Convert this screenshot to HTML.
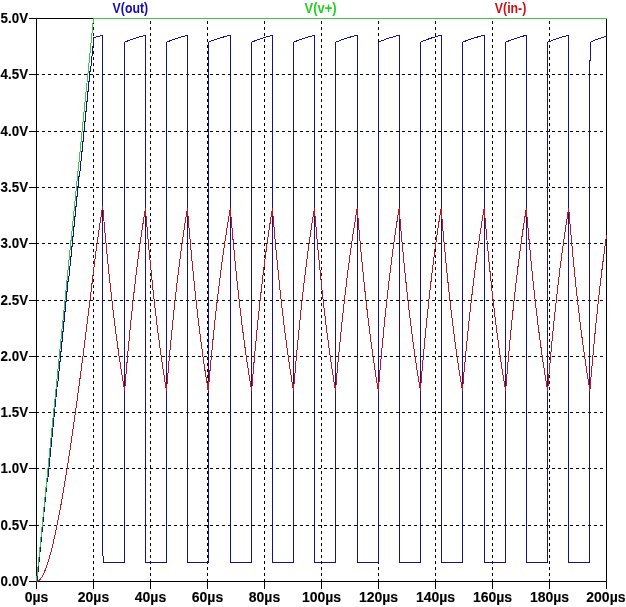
<!DOCTYPE html>
<html><head><meta charset="utf-8"><style>html,body{margin:0;padding:0;background:#fff;overflow:hidden}svg{display:block}</style></head>
<body><svg width="626" height="607" viewBox="0 0 626 607"><rect width="626" height="607" fill="#fff"/><g stroke="#000" stroke-width="1" stroke-dasharray="3 3" shape-rendering="crispEdges"><line x1="36" y1="74.5" x2="606" y2="74.5"/><line x1="36" y1="131.5" x2="606" y2="131.5"/><line x1="36" y1="187.5" x2="606" y2="187.5"/><line x1="36" y1="243.5" x2="606" y2="243.5"/><line x1="36" y1="300.5" x2="606" y2="300.5"/><line x1="36" y1="356.5" x2="606" y2="356.5"/><line x1="36" y1="412.5" x2="606" y2="412.5"/><line x1="36" y1="468.5" x2="606" y2="468.5"/><line x1="36" y1="525.5" x2="606" y2="525.5"/></g><g stroke="#000" stroke-width="1" stroke-dasharray="3 3" stroke-dashoffset="3" shape-rendering="crispEdges"><line x1="93.5" y1="18" x2="93.5" y2="581"/><line x1="150.5" y1="18" x2="150.5" y2="581"/><line x1="207.5" y1="18" x2="207.5" y2="581"/><line x1="264.5" y1="18" x2="264.5" y2="581"/><line x1="321.5" y1="18" x2="321.5" y2="581"/><line x1="378.5" y1="18" x2="378.5" y2="581"/><line x1="435.5" y1="18" x2="435.5" y2="581"/><line x1="492.5" y1="18" x2="492.5" y2="581"/><line x1="549.5" y1="18" x2="549.5" y2="581"/></g><g fill="#000" shape-rendering="crispEdges"><rect x="36" y="18" width="1" height="564"/><rect x="606" y="18" width="1" height="564"/><rect x="36" y="18" width="571" height="1"/><rect x="36" y="581" width="571" height="1"/><rect x="29" y="18" width="7" height="1"/><rect x="29" y="74" width="7" height="1"/><rect x="29" y="131" width="7" height="1"/><rect x="29" y="187" width="7" height="1"/><rect x="29" y="243" width="7" height="1"/><rect x="29" y="300" width="7" height="1"/><rect x="29" y="356" width="7" height="1"/><rect x="29" y="412" width="7" height="1"/><rect x="29" y="468" width="7" height="1"/><rect x="29" y="525" width="7" height="1"/><rect x="29" y="581" width="7" height="1"/><rect x="36" y="581" width="1" height="8"/><rect x="93" y="581" width="1" height="8"/><rect x="150" y="581" width="1" height="8"/><rect x="207" y="581" width="1" height="8"/><rect x="264" y="581" width="1" height="8"/><rect x="321" y="581" width="1" height="8"/><rect x="378" y="581" width="1" height="8"/><rect x="435" y="581" width="1" height="8"/><rect x="492" y="581" width="1" height="8"/><rect x="549" y="581" width="1" height="8"/><rect x="606" y="581" width="1" height="8"/></g><polyline points="36.50,581.50 37.02,581.50 37.02,576.50 37.55,576.50 37.55,571.49 38.07,571.49 38.07,566.49 38.60,566.49 38.60,561.49 39.12,561.49 39.12,556.48 39.65,556.48 39.65,551.48 40.17,551.48 40.17,546.48 40.70,546.48 40.70,541.47 41.22,541.47 41.22,536.47 41.74,536.47 41.74,531.47 42.27,531.47 42.27,526.46 42.79,526.46 42.79,521.46 43.32,521.46 43.32,516.45 43.84,516.45 43.84,511.45 44.37,511.45 44.37,506.45 44.89,506.45 44.89,501.44 45.41,501.44 45.41,496.44 45.94,496.44 45.94,491.44 46.46,491.44 46.46,486.43 46.99,486.43 46.99,481.43 47.51,481.43 47.51,476.43 48.04,476.43 48.04,471.42 48.56,471.42 48.56,466.42 49.09,466.42 49.09,461.42 49.61,461.42 49.61,456.41 50.13,456.41 50.13,451.41 50.66,451.41 50.66,446.41 51.18,446.41 51.18,441.40 51.71,441.40 51.71,436.40 52.23,436.40 52.23,431.40 52.76,431.40 52.76,426.39 53.28,426.39 53.28,421.39 53.81,421.39 53.81,416.38 54.33,416.38 54.33,411.38 54.85,411.38 54.85,406.38 55.38,406.38 55.38,401.37 55.90,401.37 55.90,396.37 56.43,396.37 56.43,391.37 56.95,391.37 56.95,386.36 57.48,386.36 57.48,381.36 58.00,381.36 58.00,376.36 58.52,376.36 58.52,371.35 59.05,371.35 59.05,366.35 59.57,366.35 59.57,361.35 60.10,361.35 60.10,356.34 60.62,356.34 60.62,351.34 61.15,351.34 61.15,346.34 61.67,346.34 61.67,341.33 62.20,341.33 62.20,336.33 62.72,336.33 62.72,331.33 63.24,331.33 63.24,326.32 63.77,326.32 63.77,321.32 64.29,321.32 64.29,316.31 64.82,316.31 64.82,311.31 65.34,311.31 65.34,306.31 65.87,306.31 65.87,301.30 66.39,301.30 66.39,296.30 66.92,296.30 66.92,291.30 67.44,291.30 67.44,286.29 67.96,286.29 67.96,281.29 68.49,281.29 68.49,276.29 69.01,276.29 69.01,271.28 69.54,271.28 69.54,266.28 70.06,266.28 70.06,261.28 70.59,261.28 70.59,256.27 71.11,256.27 71.11,251.27 71.63,251.27 71.63,246.27 72.16,246.27 72.16,241.26 72.68,241.26 72.68,236.26 73.21,236.26 73.21,231.26 73.73,231.26 73.73,226.25 74.26,226.25 74.26,221.25 74.78,221.25 74.78,216.24 75.31,216.24 75.31,211.24 75.83,211.24 75.83,206.24 76.35,206.24 76.35,201.23 76.88,201.23 76.88,196.23 77.40,196.23 77.40,191.23 77.93,191.23 77.93,186.22 78.45,186.22 78.45,181.22 78.98,181.22 78.98,176.22 79.50,176.22 79.50,171.21 80.03,171.21 80.03,166.21 80.55,166.21 80.55,161.21 81.07,161.21 81.07,156.20 81.60,156.20 81.60,151.20 82.12,151.20 82.12,146.20 82.65,146.20 82.65,141.19 83.17,141.19 83.17,136.19 83.70,136.19 83.70,131.19 84.22,131.19 84.22,126.18 84.74,126.18 84.74,121.18 85.27,121.18 85.27,116.18 85.79,116.18 85.79,111.17 86.32,111.17 86.32,106.17 86.84,106.17 86.84,101.16 87.37,101.16 87.37,96.16 87.89,96.16 87.89,91.16 88.42,91.16 88.42,86.15 88.94,86.15 88.94,81.15 89.46,81.15 89.46,76.15 89.99,76.15 89.99,71.14 90.51,71.14 90.51,66.14 91.04,66.14 91.04,61.14 91.56,61.14 91.56,56.13 92.09,56.13 92.09,51.13 92.61,51.13 92.61,46.13 93.14,46.13 93.14,41.12 93.50,37.75 94.31,37.50 95.12,37.25 95.94,37.01 96.75,36.78 97.56,36.55 98.37,36.33 99.19,36.12 100.00,35.91 100.81,35.70 101.62,35.51 102.43,35.31 102.50,35.31 102.50,556.00 103.50,556.00 103.50,562.47 104.31,562.47 105.12,562.47 105.93,562.47 106.75,562.47 107.56,562.47 108.37,562.47 109.18,562.47 110.00,562.47 110.81,562.47 111.62,562.47 112.43,562.47 113.24,562.47 114.06,562.47 114.87,562.47 115.68,562.47 116.49,562.47 117.31,562.47 118.12,562.47 118.93,562.47 119.74,562.47 120.56,562.47 121.37,562.47 122.18,562.47 122.99,562.47 123.80,562.47 124.60,562.47 124.60,42.34 125.41,41.97 126.22,41.60 127.04,41.25 127.85,40.90 128.66,40.56 129.47,40.24 130.29,39.92 131.10,39.61 131.91,39.31 132.72,39.01 133.53,38.73 134.35,38.45 135.16,38.18 135.97,37.91 136.78,37.66 137.60,37.41 138.41,37.17 139.22,36.93 140.03,36.70 140.84,36.48 141.66,36.26 142.47,36.05 143.28,35.84 144.09,35.64 144.91,35.45 145.40,35.45 145.40,562.47 146.21,562.47 147.02,562.47 147.84,562.47 148.65,562.47 149.46,562.47 150.27,562.47 151.09,562.47 151.90,562.47 152.71,562.47 153.52,562.47 154.33,562.47 155.15,562.47 155.96,562.47 156.77,562.47 157.58,562.47 158.40,562.47 159.21,562.47 160.02,562.47 160.83,562.47 161.65,562.47 162.46,562.47 163.27,562.47 164.08,562.47 164.89,562.47 165.71,562.47 166.50,562.47 166.50,42.34 167.31,41.97 168.12,41.60 168.94,41.25 169.75,40.91 170.56,40.57 171.37,40.25 172.19,39.93 173.00,39.62 173.81,39.32 174.62,39.03 175.43,38.74 176.25,38.46 177.06,38.19 177.87,37.93 178.68,37.68 179.50,37.43 180.31,37.19 181.12,36.95 181.93,36.72 182.75,36.50 183.56,36.28 184.37,36.07 185.18,35.87 185.99,35.67 186.81,35.47 187.40,35.47 187.40,562.47 188.21,562.47 189.02,562.47 189.84,562.47 190.65,562.47 191.46,562.47 192.27,562.47 193.09,562.47 193.90,562.47 194.71,562.47 195.52,562.47 196.33,562.47 197.15,562.47 197.96,562.47 198.77,562.47 199.58,562.47 200.40,562.47 201.21,562.47 202.02,562.47 202.83,562.47 203.65,562.47 204.46,562.47 205.27,562.47 206.08,562.47 206.89,562.47 207.71,562.47 208.20,562.47 208.20,42.34 209.01,41.99 209.82,41.64 210.64,41.31 211.45,40.98 212.26,40.66 213.07,40.35 213.89,40.05 214.70,39.75 215.51,39.46 216.32,39.18 217.13,38.91 217.95,38.64 218.76,38.38 219.57,38.13 220.38,37.88 221.20,37.64 222.01,37.41 222.82,37.18 223.63,36.96 224.45,36.74 225.26,36.53 226.07,36.32 226.88,36.12 227.69,35.93 228.51,35.74 229.32,35.55 230.13,35.37 230.30,35.37 230.30,562.47 231.11,562.47 231.92,562.47 232.74,562.47 233.55,562.47 234.36,562.47 235.17,562.47 235.99,562.47 236.80,562.47 237.61,562.47 238.42,562.47 239.23,562.47 240.05,562.47 240.86,562.47 241.67,562.47 242.48,562.47 243.30,562.47 244.11,562.47 244.92,562.47 245.73,562.47 246.54,562.47 247.36,562.47 248.17,562.47 248.98,562.47 249.79,562.47 250.61,562.47 251.42,562.47 251.60,562.47 251.60,42.34 252.41,41.97 253.22,41.60 254.04,41.25 254.85,40.90 255.66,40.56 256.47,40.24 257.29,39.92 258.10,39.61 258.91,39.31 259.72,39.01 260.53,38.73 261.35,38.45 262.16,38.18 262.97,37.91 263.78,37.66 264.60,37.41 265.41,37.17 266.22,36.93 267.03,36.70 267.84,36.48 268.66,36.26 269.47,36.05 270.28,35.84 271.09,35.64 271.91,35.45 272.40,35.45 272.40,562.47 273.21,562.47 274.02,562.47 274.84,562.47 275.65,562.47 276.46,562.47 277.27,562.47 278.09,562.47 278.90,562.47 279.71,562.47 280.52,562.47 281.33,562.47 282.15,562.47 282.96,562.47 283.77,562.47 284.58,562.47 285.40,562.47 286.21,562.47 287.02,562.47 287.83,562.47 288.64,562.47 289.46,562.47 290.27,562.47 291.08,562.47 291.89,562.47 292.71,562.47 293.50,562.47 293.50,42.34 294.31,41.97 295.12,41.60 295.94,41.25 296.75,40.91 297.56,40.57 298.37,40.25 299.19,39.93 300.00,39.62 300.81,39.32 301.62,39.03 302.43,38.74 303.25,38.46 304.06,38.19 304.87,37.93 305.68,37.68 306.50,37.43 307.31,37.19 308.12,36.95 308.93,36.72 309.74,36.50 310.56,36.28 311.37,36.07 312.18,35.87 312.99,35.67 313.81,35.47 314.40,35.47 314.40,562.47 315.21,562.47 316.02,562.47 316.84,562.47 317.65,562.47 318.46,562.47 319.27,562.47 320.09,562.47 320.90,562.47 321.71,562.47 322.52,562.47 323.33,562.47 324.15,562.47 324.96,562.47 325.77,562.47 326.58,562.47 327.40,562.47 328.21,562.47 329.02,562.47 329.83,562.47 330.64,562.47 331.46,562.47 332.27,562.47 333.08,562.47 333.89,562.47 334.71,562.47 335.50,562.47 335.50,42.34 336.31,41.98 337.12,41.63 337.94,41.29 338.75,40.96 339.56,40.63 340.37,40.32 341.19,40.01 342.00,39.71 342.81,39.42 343.62,39.13 344.43,38.86 345.25,38.59 346.06,38.32 346.87,38.07 347.68,37.82 348.50,37.57 349.31,37.34 350.12,37.11 350.93,36.88 351.74,36.66 352.56,36.45 353.37,36.24 354.18,36.04 354.99,35.84 355.81,35.65 356.62,35.46 357.20,35.46 357.20,562.47 358.01,562.47 358.82,562.47 359.64,562.47 360.45,562.47 361.26,562.47 362.07,562.47 362.89,562.47 363.70,562.47 364.51,562.47 365.32,562.47 366.13,562.47 366.95,562.47 367.76,562.47 368.57,562.47 369.38,562.47 370.20,562.47 371.01,562.47 371.82,562.47 372.63,562.47 373.44,562.47 374.26,562.47 375.07,562.47 375.88,562.47 376.69,562.47 377.51,562.47 378.30,562.47 378.30,42.34 379.11,41.97 379.92,41.60 380.74,41.25 381.55,40.90 382.36,40.56 383.17,40.24 383.99,39.92 384.80,39.61 385.61,39.31 386.42,39.01 387.23,38.73 388.05,38.45 388.86,38.18 389.67,37.91 390.48,37.66 391.30,37.41 392.11,37.17 392.92,36.93 393.73,36.70 394.54,36.48 395.36,36.26 396.17,36.05 396.98,35.84 397.79,35.64 398.61,35.45 399.10,35.45 399.10,562.47 399.91,562.47 400.72,562.47 401.54,562.47 402.35,562.47 403.16,562.47 403.97,562.47 404.79,562.47 405.60,562.47 406.41,562.47 407.22,562.47 408.03,562.47 408.85,562.47 409.66,562.47 410.47,562.47 411.28,562.47 412.10,562.47 412.91,562.47 413.72,562.47 414.53,562.47 415.34,562.47 416.16,562.47 416.97,562.47 417.78,562.47 418.59,562.47 419.41,562.47 420.22,562.47 420.40,562.47 420.40,42.34 421.21,41.96 422.02,41.60 422.84,41.24 423.65,40.89 424.46,40.56 425.27,40.23 426.09,39.91 426.90,39.60 427.71,39.29 428.52,39.00 429.33,38.71 430.15,38.43 430.96,38.16 431.77,37.90 432.58,37.64 433.40,37.39 434.21,37.15 435.02,36.91 435.83,36.68 436.64,36.46 437.46,36.24 438.27,36.03 439.08,35.82 439.89,35.62 440.71,35.42 441.10,35.42 441.10,562.47 441.91,562.47 442.72,562.47 443.54,562.47 444.35,562.47 445.16,562.47 445.97,562.47 446.79,562.47 447.60,562.47 448.41,562.47 449.22,562.47 450.03,562.47 450.85,562.47 451.66,562.47 452.47,562.47 453.28,562.47 454.10,562.47 454.91,562.47 455.72,562.47 456.53,562.47 457.34,562.47 458.16,562.47 458.97,562.47 459.78,562.47 460.59,562.47 461.41,562.47 462.22,562.47 462.40,562.47 462.40,42.34 463.21,41.98 464.02,41.63 464.84,41.29 465.65,40.96 466.46,40.64 467.27,40.32 468.09,40.02 468.90,39.72 469.71,39.43 470.52,39.15 471.33,38.87 472.15,38.60 472.96,38.34 473.77,38.08 474.58,37.83 475.40,37.59 476.21,37.36 477.02,37.13 477.83,36.90 478.64,36.68 479.46,36.47 480.27,36.26 481.08,36.06 481.89,35.86 482.71,35.67 483.52,35.48 484.20,35.48 484.20,562.47 485.01,562.47 485.82,562.47 486.64,562.47 487.45,562.47 488.26,562.47 489.07,562.47 489.89,562.47 490.70,562.47 491.51,562.47 492.32,562.47 493.13,562.47 493.95,562.47 494.76,562.47 495.57,562.47 496.38,562.47 497.20,562.47 498.01,562.47 498.82,562.47 499.63,562.47 500.44,562.47 501.26,562.47 502.07,562.47 502.88,562.47 503.69,562.47 504.51,562.47 505.32,562.47 505.60,562.47 505.60,42.34 506.41,41.96 507.22,41.60 508.04,41.24 508.85,40.89 509.66,40.56 510.47,40.23 511.29,39.91 512.10,39.60 512.91,39.29 513.72,39.00 514.53,38.71 515.35,38.43 516.16,38.16 516.97,37.90 517.78,37.64 518.60,37.39 519.41,37.15 520.22,36.91 521.03,36.68 521.84,36.46 522.66,36.24 523.47,36.03 524.28,35.82 525.09,35.62 525.91,35.42 526.30,35.42 526.30,562.47 527.11,562.47 527.92,562.47 528.74,562.47 529.55,562.47 530.36,562.47 531.17,562.47 531.99,562.47 532.80,562.47 533.61,562.47 534.42,562.47 535.23,562.47 536.05,562.47 536.86,562.47 537.67,562.47 538.48,562.47 539.30,562.47 540.11,562.47 540.92,562.47 541.73,562.47 542.54,562.47 543.36,562.47 544.17,562.47 544.98,562.47 545.79,562.47 546.61,562.47 547.42,562.47 547.60,562.47 547.60,42.34 548.41,41.97 549.22,41.61 550.04,41.26 550.85,40.92 551.66,40.59 552.47,40.26 553.29,39.95 554.10,39.64 554.91,39.34 555.72,39.05 556.53,38.77 557.35,38.50 558.16,38.23 558.97,37.97 559.78,37.71 560.60,37.47 561.41,37.22 562.22,36.99 563.03,36.76 563.84,36.54 564.66,36.32 565.47,36.11 566.28,35.91 567.09,35.71 567.91,35.52 568.70,35.52 568.70,562.47 569.51,562.47 570.32,562.47 571.14,562.47 571.95,562.47 572.76,562.47 573.57,562.47 574.39,562.47 575.20,562.47 576.01,562.47 576.82,562.47 577.63,562.47 578.45,562.47 579.26,562.47 580.07,562.47 580.88,562.47 581.70,562.47 582.51,562.47 583.32,562.47 584.13,562.47 584.94,562.47 585.76,562.47 586.57,562.47 587.38,562.47 588.19,562.47 589.01,562.47 589.82,562.47 589.50,562.47 589.50,60.00 590.50,60.00 590.50,42.34 591.31,41.70 592.12,41.34 592.94,40.99 593.75,40.65 594.56,40.32 595.37,40.00 596.18,39.69 597.00,39.38 597.81,39.09 598.62,38.80 599.43,38.52 600.25,38.25 601.06,37.98 601.87,37.73 602.68,37.47 603.49,37.23 604.31,36.99 605.12,36.76 605.93,36.54 606.49,36.39" fill="none" stroke="#18108c" stroke-width="1" stroke-linejoin="round" stroke-linecap="round" shape-rendering="crispEdges"/><polyline points="36.5,581.5 93.5,18.5 606.5,18.5" fill="none" stroke="#3cc846" stroke-width="1" stroke-linejoin="round" stroke-linecap="round" shape-rendering="crispEdges"/><polyline points="36.50,581.50 37.36,581.38 38.21,581.02 39.07,580.43 39.93,579.62 40.79,578.59 41.64,577.35 42.50,575.90 43.36,574.26 44.22,572.42 45.07,570.41 45.85,568.41 46.58,566.41 47.26,564.40 47.92,562.40 48.54,560.40 49.14,558.39 49.72,556.38 50.28,554.38 50.82,552.37 51.34,550.37 51.85,548.37 52.35,546.36 52.84,544.36 53.32,542.35 53.78,540.35 54.24,538.34 54.69,536.33 55.13,534.32 55.57,532.32 55.99,530.31 56.42,528.30 56.83,526.29 57.24,524.28 57.65,522.26 58.05,520.25 58.44,518.25 58.83,516.25 59.21,514.24 59.59,512.24 59.97,510.23 60.34,508.22 60.71,506.21 61.07,504.21 61.43,502.20 61.79,500.19 62.15,498.17 62.50,496.16 62.85,494.14 63.20,492.12 63.55,490.11 63.89,488.09 64.23,486.08 64.56,484.07 64.90,482.06 65.23,480.06 65.56,478.06 65.88,476.04 66.21,474.04 66.53,472.03 66.85,470.02 67.17,468.00 67.49,466.00 67.80,463.98 68.12,461.98 68.43,459.97 68.74,457.96 69.05,455.96 69.35,453.94 69.66,451.94 69.96,449.92 70.27,447.91 70.57,445.90 70.87,443.89 71.17,441.87 71.46,439.87 71.76,437.85 72.05,435.85 72.35,433.84 72.64,431.83 72.93,429.82 73.22,427.81 73.51,425.80 73.80,423.79 74.08,421.79 74.37,419.78 74.65,417.76 74.93,415.76 75.21,413.75 75.50,411.73 75.78,409.73 76.06,407.72 76.33,405.70 76.61,403.70 76.89,401.69 77.16,399.67 77.44,397.67 77.71,395.66 77.98,393.65 78.26,391.63 78.53,389.62 78.80,387.61 79.07,385.60 79.34,383.60 79.61,381.59 79.87,379.58 80.14,377.56 80.41,375.56 80.67,373.56 80.94,371.54 81.20,369.53 81.47,367.51 81.73,365.50 81.99,363.49 82.25,361.48 82.52,359.46 82.78,357.46 83.03,355.45 83.29,353.44 83.55,351.43 83.81,349.41 84.07,347.40 84.33,345.40 84.58,343.39 84.84,341.37 85.10,339.35 85.35,337.35 85.60,335.35 85.86,333.34 86.11,331.33 86.36,329.31 86.62,327.29 86.87,325.29 87.12,323.28 87.37,321.27 87.62,319.26 87.87,317.24 88.12,315.22 88.37,313.22 88.62,311.22 88.87,309.21 89.11,307.20 89.36,305.19 89.61,303.17 89.86,301.15 90.10,299.15 90.35,297.14 90.59,295.13 90.84,293.12 91.08,291.11 91.33,289.09 91.57,287.07 91.82,285.05 92.06,283.05 92.30,281.04 92.55,279.04 92.79,277.03 93.04,275.01 93.29,273.00 93.54,270.94 93.80,268.84 94.06,266.77 94.31,264.71 94.57,262.67 94.83,260.64 95.08,258.63 95.35,256.54 95.62,254.46 95.89,252.39 96.16,250.35 96.44,248.33 96.71,246.32 96.99,244.23 97.28,242.16 97.56,240.11 97.85,238.08 98.13,236.06 98.43,233.97 98.73,231.90 99.03,229.85 99.33,227.82 99.63,225.81 99.94,223.73 100.25,221.67 100.57,219.63 100.88,217.61 101.21,215.52 101.54,213.46 101.86,211.42 102.19,209.40 102.53,207.32 102.70,206.32 102.87,208.34 103.04,210.35 103.23,212.51 103.41,214.66 103.60,216.80 103.78,218.93 103.97,221.04 104.15,223.14 104.34,225.22 104.52,227.29 104.71,229.35 104.89,231.40 105.08,233.44 105.26,235.46 105.45,237.47 105.65,239.62 105.85,241.76 106.05,243.88 106.25,245.99 106.45,248.08 106.65,250.16 106.85,252.23 107.05,254.28 107.25,256.32 107.45,258.35 107.64,260.36 107.86,262.50 108.07,264.63 108.29,266.74 108.50,268.84 108.71,270.92 108.93,272.98 109.14,275.04 109.35,277.07 109.57,279.10 109.78,281.11 110.01,283.23 110.24,285.34 110.47,287.44 110.69,289.52 110.92,291.58 111.15,293.63 111.38,295.66 111.61,297.68 111.83,299.68 112.08,301.79 112.32,303.88 112.56,305.96 112.80,308.02 113.05,310.06 113.29,312.09 113.53,314.10 113.79,316.21 114.04,318.30 114.30,320.38 114.56,322.44 114.81,324.48 115.07,326.50 115.33,328.51 115.60,330.61 115.87,332.69 116.14,334.75 116.41,336.79 116.68,338.81 116.95,340.82 117.23,342.91 117.52,344.99 117.80,347.04 118.09,349.07 118.37,351.09 118.67,353.18 118.97,355.26 119.27,357.31 119.57,359.34 119.87,361.36 120.18,363.44 120.50,365.51 120.81,367.55 121.13,369.58 121.44,371.58 121.77,373.65 122.09,375.70 122.42,377.73 122.75,379.73 123.09,381.80 123.43,383.84 123.78,385.86 124.13,387.95 124.49,390.00 124.60,390.64 124.77,388.57 124.94,386.50 125.11,384.45 125.28,382.41 125.45,380.38 125.63,378.36 125.80,376.36 125.98,374.20 126.17,372.05 126.35,369.92 126.54,367.80 126.72,365.69 126.91,363.60 127.09,361.52 127.28,359.45 127.46,357.40 127.65,355.35 127.83,353.32 128.02,351.31 128.21,349.30 128.40,347.16 128.60,345.03 128.80,342.91 129.00,340.81 129.20,338.72 129.40,336.65 129.60,334.59 129.80,332.54 130.00,330.51 130.20,328.49 130.40,326.48 130.61,324.35 130.83,322.23 131.04,320.13 131.25,318.04 131.47,315.96 131.68,313.90 131.90,311.86 132.11,309.83 132.32,307.82 132.54,305.81 132.77,303.70 132.99,301.59 133.22,299.51 133.45,297.44 133.68,295.38 133.91,293.34 134.13,291.32 134.36,289.31 134.60,287.20 134.85,285.10 135.09,283.02 135.33,280.95 135.57,278.90 135.81,276.87 136.06,274.85 136.31,272.74 136.57,270.64 136.83,268.56 137.08,266.50 137.34,264.45 137.60,262.42 137.85,260.41 138.12,258.31 138.39,256.23 138.66,254.16 138.94,252.12 139.21,250.09 139.48,248.08 139.76,245.98 140.05,243.91 140.33,241.85 140.62,239.82 140.90,237.80 141.20,235.70 141.50,233.63 141.80,231.57 142.10,229.54 142.40,227.52 142.71,225.44 143.03,223.37 143.34,221.32 143.65,219.30 143.97,217.30 144.29,215.23 144.62,213.18 144.95,211.15 145.28,209.15 145.40,208.40 145.57,210.47 145.74,212.52 145.91,214.57 146.08,216.60 146.26,218.62 146.43,220.63 146.61,222.79 146.80,224.94 146.98,227.08 147.17,229.20 147.35,231.31 147.54,233.41 147.72,235.49 147.91,237.56 148.09,239.61 148.28,241.66 148.46,243.69 148.65,245.70 148.83,247.71 149.03,249.85 149.23,251.98 149.43,254.10 149.63,256.20 149.83,258.28 150.03,260.36 150.23,262.41 150.43,264.46 150.63,266.49 150.83,268.51 151.03,270.51 151.24,272.64 151.46,274.75 151.67,276.85 151.88,278.94 152.10,281.01 152.31,283.06 152.53,285.10 152.74,287.12 152.95,289.13 153.18,291.26 153.41,293.37 153.64,295.47 153.86,297.54 154.09,299.61 154.32,301.65 154.55,303.68 154.78,305.69 155.02,307.82 155.26,309.92 155.50,312.01 155.75,314.08 155.99,316.13 156.23,318.17 156.47,320.19 156.71,322.19 156.97,324.29 157.23,326.38 157.48,328.44 157.74,330.49 158.00,332.52 158.25,334.53 158.52,336.64 158.80,338.73 159.07,340.79 159.34,342.84 159.61,344.87 159.88,346.88 160.16,348.97 160.45,351.05 160.73,353.10 161.02,355.14 161.30,357.15 161.60,359.25 161.90,361.32 162.20,363.37 162.50,365.40 162.80,367.41 163.11,369.50 163.43,371.56 163.74,373.60 164.05,375.62 164.38,377.70 164.71,379.77 165.04,381.81 165.36,383.82 165.71,385.91 166.05,387.96 166.39,390.00 166.50,390.64 166.67,388.58 166.84,386.52 167.01,384.48 167.18,382.45 167.36,380.43 167.53,378.42 167.71,376.26 167.90,374.11 168.08,371.98 168.27,369.85 168.45,367.74 168.64,365.65 168.82,363.56 169.01,361.49 169.19,359.44 169.38,357.39 169.56,355.36 169.75,353.34 169.93,351.33 170.13,349.18 170.33,347.05 170.53,344.93 170.73,342.82 170.93,340.73 171.13,338.66 171.33,336.59 171.53,334.54 171.73,332.50 171.93,330.48 172.13,328.47 172.34,326.33 172.56,324.21 172.77,322.10 172.98,320.01 173.20,317.93 173.41,315.87 173.63,313.82 173.84,311.79 174.05,309.77 174.27,307.76 174.49,305.64 174.72,303.53 174.95,301.44 175.18,299.37 175.41,297.31 175.63,295.26 175.86,293.24 176.09,291.22 176.33,289.10 176.57,287.00 176.82,284.91 177.06,282.84 177.30,280.78 177.54,278.75 177.79,276.73 178.03,274.72 178.28,272.62 178.54,270.53 178.80,268.46 179.05,266.41 179.31,264.37 179.57,262.36 179.84,260.25 180.11,258.15 180.38,256.08 180.65,254.03 180.92,251.99 181.19,249.98 181.48,247.87 181.76,245.79 182.05,243.73 182.33,241.68 182.62,239.66 182.90,237.65 183.20,235.57 183.50,233.50 183.80,231.46 184.10,229.43 184.40,227.43 184.71,225.35 185.03,223.30 185.34,221.26 185.65,219.25 185.98,217.17 186.31,215.11 186.64,213.07 186.96,211.05 187.31,208.97 187.40,208.40 187.57,210.50 187.74,212.58 187.91,214.66 188.08,216.72 188.26,218.77 188.43,220.80 188.60,222.83 188.77,224.84 188.94,226.84 189.12,229.00 189.31,231.14 189.49,233.26 189.68,235.38 189.87,237.48 190.05,239.56 190.24,241.64 190.42,243.70 190.61,245.74 190.79,247.77 190.98,249.79 191.16,251.80 191.36,253.95 191.56,256.08 191.76,258.20 191.96,260.30 192.16,262.39 192.36,264.46 192.56,266.52 192.76,268.57 192.96,270.60 193.16,272.61 193.36,274.62 193.57,276.75 193.78,278.86 194.00,280.96 194.21,283.05 194.43,285.12 194.64,287.17 194.85,289.21 195.07,291.23 195.28,293.24 195.51,295.36 195.74,297.47 195.96,299.56 196.19,301.64 196.42,303.70 196.65,305.74 196.88,307.77 197.10,309.78 197.35,311.90 197.59,314.00 197.83,316.08 198.07,318.15 198.32,320.20 198.56,322.23 198.80,324.24 199.06,326.36 199.31,328.45 199.57,330.53 199.83,332.59 200.08,334.63 200.34,336.65 200.60,338.65 200.87,340.75 201.14,342.83 201.41,344.89 201.68,346.92 201.95,348.94 202.22,350.94 202.51,353.03 202.79,355.09 203.08,357.14 203.36,359.16 203.65,361.17 203.94,363.25 204.24,365.31 204.54,367.35 204.84,369.37 205.16,371.46 205.47,373.53 205.78,375.58 206.10,377.61 206.41,379.61 206.74,381.68 207.07,383.73 207.39,385.75 207.72,387.76 208.06,389.82 208.20,390.64 208.39,388.53 208.57,386.42 208.76,384.33 208.94,382.25 209.13,380.18 209.31,378.13 209.50,376.08 209.68,374.05 209.87,372.03 210.05,370.03 210.25,367.88 210.45,365.74 210.65,363.62 210.85,361.51 211.05,359.41 211.25,357.33 211.45,355.26 211.65,353.21 211.85,351.16 212.05,349.13 212.25,347.11 212.45,345.11 212.66,342.97 212.87,340.85 213.09,338.75 213.30,336.66 213.52,334.58 213.73,332.51 213.94,330.47 214.16,328.43 214.37,326.41 214.58,324.40 214.81,322.27 215.04,320.16 215.27,318.06 215.50,315.98 215.72,313.91 215.95,311.86 216.18,309.82 216.41,307.80 216.64,305.79 216.88,303.67 217.12,301.57 217.36,299.49 217.61,297.42 217.85,295.36 218.09,293.32 218.33,291.30 218.57,289.29 218.83,287.18 219.09,285.09 219.34,283.02 219.60,280.96 219.86,278.92 220.11,276.89 220.37,274.88 220.64,272.78 220.91,270.69 221.18,268.63 221.45,266.58 221.72,264.55 221.99,262.53 222.28,260.43 222.56,258.34 222.85,256.28 223.13,254.23 223.42,252.21 223.70,250.20 224.00,248.11 224.30,246.03 224.60,243.98 224.90,241.95 225.20,239.94 225.51,237.85 225.83,235.78 226.14,233.73 226.45,231.70 226.77,229.70 227.10,227.62 227.42,225.56 227.75,223.53 228.08,221.51 228.42,219.43 228.76,217.38 229.10,215.34 229.45,213.33 229.80,211.25 230.16,209.20 230.30,208.40 230.47,210.45 230.64,212.49 230.81,214.51 230.98,216.53 231.15,218.53 231.34,220.68 231.53,222.83 231.71,224.96 231.90,227.07 232.08,229.17 232.27,231.26 232.45,233.34 232.64,235.40 232.82,237.45 233.01,239.49 233.19,241.51 233.38,243.53 233.58,245.68 233.78,247.82 233.98,249.94 234.18,252.05 234.38,254.14 234.57,256.23 234.77,258.29 234.97,260.34 235.17,262.38 235.37,264.41 235.57,266.42 235.79,268.56 236.00,270.69 236.21,272.80 236.43,274.89 236.64,276.97 236.85,279.03 237.07,281.08 237.28,283.12 237.50,285.14 237.71,287.14 237.94,289.26 238.17,291.37 238.39,293.46 238.62,295.53 238.85,297.59 239.08,299.63 239.31,301.66 239.53,303.67 239.78,305.79 240.02,307.89 240.26,309.98 240.50,312.04 240.75,314.09 240.99,316.13 241.23,318.15 241.47,320.15 241.73,322.25 241.98,324.33 242.24,326.39 242.50,328.44 242.75,330.47 243.01,332.48 243.28,334.58 243.55,336.67 243.82,338.74 244.09,340.78 244.36,342.81 244.64,344.82 244.92,346.91 245.21,348.99 245.49,351.05 245.78,353.08 246.06,355.10 246.36,357.19 246.66,359.27 246.96,361.32 247.26,363.35 247.56,365.37 247.87,367.45 248.18,369.52 248.50,371.56 248.81,373.58 249.14,375.67 249.47,377.74 249.79,379.78 250.12,381.80 250.46,383.89 250.81,385.95 251.15,387.98 251.49,390.00 251.60,390.64 251.77,388.57 251.94,386.50 252.11,384.45 252.28,382.41 252.45,380.38 252.63,378.36 252.80,376.36 252.98,374.20 253.17,372.05 253.35,369.92 253.54,367.80 253.72,365.69 253.91,363.60 254.09,361.52 254.28,359.45 254.46,357.40 254.65,355.35 254.83,353.32 255.02,351.31 255.21,349.30 255.40,347.16 255.60,345.03 255.80,342.91 256.00,340.81 256.20,338.72 256.40,336.65 256.60,334.59 256.80,332.54 257.00,330.51 257.20,328.49 257.40,326.48 257.61,324.35 257.83,322.23 258.04,320.13 258.25,318.04 258.47,315.96 258.68,313.90 258.90,311.86 259.11,309.83 259.32,307.82 259.54,305.81 259.77,303.70 259.99,301.59 260.22,299.51 260.45,297.44 260.68,295.38 260.91,293.34 261.13,291.32 261.36,289.31 261.60,287.20 261.85,285.10 262.09,283.02 262.33,280.95 262.57,278.90 262.81,276.87 263.06,274.85 263.31,272.74 263.57,270.64 263.83,268.56 264.08,266.50 264.34,264.45 264.60,262.42 264.85,260.41 265.12,258.31 265.39,256.23 265.66,254.16 265.94,252.12 266.21,250.09 266.48,248.08 266.76,245.98 267.05,243.91 267.33,241.85 267.62,239.82 267.90,237.80 268.20,235.70 268.50,233.63 268.80,231.57 269.10,229.54 269.40,227.52 269.71,225.44 270.03,223.37 270.34,221.32 270.65,219.30 270.97,217.30 271.29,215.23 271.62,213.18 271.95,211.15 272.28,209.15 272.40,208.40 272.57,210.47 272.74,212.52 272.91,214.57 273.08,216.60 273.25,218.62 273.43,220.63 273.61,222.79 273.80,224.94 273.98,227.08 274.17,229.20 274.35,231.31 274.54,233.41 274.72,235.49 274.91,237.56 275.09,239.61 275.28,241.66 275.46,243.69 275.65,245.70 275.83,247.71 276.03,249.85 276.23,251.98 276.43,254.10 276.63,256.20 276.83,258.28 277.03,260.36 277.23,262.41 277.43,264.46 277.63,266.49 277.83,268.51 278.03,270.51 278.24,272.64 278.46,274.75 278.67,276.85 278.88,278.94 279.10,281.01 279.31,283.06 279.52,285.10 279.74,287.12 279.95,289.13 280.18,291.26 280.41,293.37 280.64,295.47 280.86,297.54 281.09,299.61 281.32,301.65 281.55,303.68 281.78,305.69 282.02,307.82 282.26,309.92 282.50,312.01 282.75,314.08 282.99,316.13 283.23,318.17 283.47,320.19 283.71,322.19 283.97,324.29 284.23,326.38 284.48,328.44 284.74,330.49 285.00,332.52 285.25,334.53 285.52,336.64 285.79,338.73 286.07,340.79 286.34,342.84 286.61,344.87 286.88,346.88 287.16,348.97 287.45,351.05 287.73,353.10 288.02,355.14 288.30,357.15 288.60,359.25 288.90,361.32 289.20,363.37 289.50,365.40 289.80,367.41 290.11,369.50 290.43,371.56 290.74,373.60 291.05,375.62 291.38,377.70 291.71,379.77 292.04,381.81 292.36,383.82 292.71,385.91 293.05,387.96 293.39,390.00 293.50,390.64 293.67,388.58 293.84,386.52 294.01,384.48 294.18,382.45 294.35,380.43 294.53,378.42 294.71,376.26 294.90,374.11 295.08,371.98 295.27,369.85 295.45,367.74 295.64,365.65 295.82,363.56 296.01,361.49 296.19,359.44 296.38,357.39 296.56,355.36 296.75,353.34 296.93,351.33 297.13,349.18 297.33,347.05 297.53,344.93 297.73,342.82 297.93,340.73 298.13,338.66 298.33,336.59 298.53,334.54 298.73,332.50 298.93,330.48 299.13,328.47 299.34,326.33 299.56,324.21 299.77,322.10 299.98,320.01 300.20,317.93 300.41,315.87 300.62,313.82 300.84,311.79 301.05,309.77 301.27,307.76 301.49,305.64 301.72,303.53 301.95,301.44 302.18,299.37 302.41,297.31 302.63,295.26 302.86,293.24 303.09,291.22 303.33,289.10 303.57,287.00 303.82,284.91 304.06,282.84 304.30,280.78 304.54,278.75 304.79,276.73 305.03,274.72 305.28,272.62 305.54,270.53 305.80,268.46 306.05,266.41 306.31,264.37 306.57,262.36 306.84,260.25 307.11,258.15 307.38,256.08 307.65,254.03 307.92,251.99 308.19,249.98 308.48,247.87 308.76,245.79 309.05,243.73 309.33,241.68 309.62,239.66 309.90,237.65 310.20,235.57 310.50,233.50 310.80,231.46 311.10,229.43 311.40,227.43 311.71,225.35 312.02,223.30 312.34,221.26 312.65,219.25 312.98,217.17 313.31,215.11 313.64,213.07 313.96,211.05 314.30,208.97 314.40,208.40 314.57,210.47 314.74,212.52 314.91,214.57 315.08,216.60 315.25,218.62 315.43,220.63 315.61,222.79 315.80,224.94 315.98,227.08 316.17,229.20 316.35,231.31 316.54,233.41 316.72,235.49 316.91,237.56 317.09,239.61 317.28,241.66 317.46,243.69 317.65,245.70 317.83,247.71 318.03,249.85 318.23,251.98 318.43,254.10 318.63,256.20 318.83,258.28 319.03,260.36 319.23,262.41 319.43,264.46 319.63,266.49 319.83,268.51 320.03,270.51 320.24,272.64 320.46,274.75 320.67,276.85 320.88,278.94 321.10,281.01 321.31,283.06 321.52,285.10 321.74,287.12 321.95,289.13 322.18,291.26 322.41,293.37 322.64,295.47 322.86,297.54 323.09,299.61 323.32,301.65 323.55,303.68 323.78,305.69 324.02,307.82 324.26,309.92 324.50,312.01 324.75,314.08 324.99,316.13 325.23,318.17 325.47,320.19 325.71,322.19 325.97,324.29 326.23,326.38 326.48,328.44 326.74,330.49 327.00,332.52 327.25,334.53 327.52,336.64 327.79,338.73 328.07,340.79 328.34,342.84 328.61,344.87 328.88,346.88 329.16,348.97 329.45,351.05 329.73,353.10 330.02,355.14 330.30,357.15 330.60,359.25 330.90,361.32 331.20,363.37 331.50,365.40 331.80,367.41 332.11,369.50 332.43,371.56 332.74,373.60 333.05,375.62 333.38,377.70 333.71,379.77 334.04,381.81 334.36,383.82 334.71,385.91 335.05,387.96 335.39,390.00 335.50,390.64 335.69,388.49 335.87,386.35 336.06,384.22 336.24,382.10 336.43,379.99 336.61,377.90 336.80,375.82 336.98,373.75 337.17,371.70 337.35,369.66 337.54,367.63 337.72,365.61 337.91,363.60 338.11,361.45 338.31,359.32 338.51,357.20 338.71,355.09 338.91,353.00 339.11,350.92 339.30,348.85 339.50,346.80 339.70,344.76 339.90,342.73 340.10,340.72 340.30,338.72 340.52,336.59 340.73,334.47 340.94,332.37 341.16,330.29 341.37,328.21 341.58,326.16 341.80,324.11 342.01,322.08 342.23,320.07 342.44,318.06 342.67,315.94 342.90,313.84 343.12,311.75 343.35,309.68 343.58,307.62 343.81,305.57 344.04,303.54 344.26,301.53 344.51,299.41 344.75,297.30 344.99,295.21 345.23,293.13 345.47,291.07 345.72,289.03 345.96,287.00 346.20,284.99 346.46,282.88 346.71,280.79 346.97,278.71 347.23,276.65 347.48,274.60 347.74,272.58 348.00,270.57 348.27,268.46 348.54,266.38 348.81,264.31 349.08,262.26 349.35,260.23 349.62,258.21 349.91,256.11 350.19,254.03 350.48,251.97 350.76,249.92 351.05,247.90 351.33,245.89 351.63,243.80 351.93,241.73 352.23,239.69 352.53,237.66 352.83,235.65 353.14,233.56 353.45,231.50 353.77,229.46 354.08,227.44 354.40,225.43 354.72,223.36 355.05,221.31 355.38,219.29 355.71,217.28 356.05,215.21 356.39,213.16 356.73,211.13 357.07,209.13 357.20,208.40 357.37,210.47 357.54,212.52 357.71,214.57 357.88,216.60 358.05,218.62 358.23,220.63 358.41,222.79 358.60,224.94 358.78,227.08 358.97,229.20 359.15,231.31 359.34,233.41 359.52,235.49 359.71,237.56 359.89,239.61 360.08,241.66 360.26,243.69 360.45,245.70 360.63,247.71 360.83,249.85 361.03,251.98 361.23,254.10 361.43,256.20 361.63,258.28 361.83,260.36 362.03,262.41 362.23,264.46 362.43,266.49 362.63,268.51 362.83,270.51 363.04,272.64 363.26,274.75 363.47,276.85 363.68,278.94 363.90,281.01 364.11,283.06 364.32,285.10 364.54,287.12 364.75,289.13 364.98,291.26 365.21,293.37 365.44,295.47 365.66,297.54 365.89,299.61 366.12,301.65 366.35,303.68 366.58,305.69 366.82,307.82 367.06,309.92 367.30,312.01 367.55,314.08 367.79,316.13 368.03,318.17 368.27,320.19 368.51,322.19 368.77,324.29 369.03,326.38 369.28,328.44 369.54,330.49 369.80,332.52 370.05,334.53 370.32,336.64 370.59,338.73 370.87,340.79 371.14,342.84 371.41,344.87 371.68,346.88 371.96,348.97 372.25,351.05 372.53,353.10 372.82,355.14 373.10,357.15 373.40,359.25 373.70,361.32 374.00,363.37 374.30,365.40 374.60,367.41 374.91,369.50 375.23,371.56 375.54,373.60 375.85,375.62 376.18,377.70 376.51,379.77 376.84,381.81 377.16,383.82 377.51,385.91 377.85,387.96 378.19,390.00 378.30,390.64 378.47,388.57 378.64,386.50 378.81,384.45 378.98,382.41 379.15,380.38 379.33,378.36 379.50,376.36 379.68,374.20 379.87,372.05 380.05,369.92 380.24,367.80 380.42,365.69 380.61,363.60 380.79,361.52 380.98,359.45 381.16,357.40 381.35,355.35 381.53,353.32 381.72,351.31 381.91,349.30 382.10,347.16 382.30,345.03 382.50,342.91 382.70,340.81 382.90,338.72 383.10,336.65 383.30,334.59 383.50,332.54 383.70,330.51 383.90,328.49 384.10,326.48 384.31,324.35 384.53,322.23 384.74,320.13 384.95,318.04 385.17,315.96 385.38,313.90 385.60,311.86 385.81,309.83 386.02,307.82 386.24,305.81 386.47,303.70 386.69,301.59 386.92,299.51 387.15,297.44 387.38,295.38 387.61,293.34 387.83,291.32 388.06,289.31 388.30,287.20 388.55,285.10 388.79,283.02 389.03,280.95 389.27,278.90 389.51,276.87 389.76,274.85 390.01,272.74 390.27,270.64 390.53,268.56 390.78,266.50 391.04,264.45 391.30,262.42 391.55,260.41 391.82,258.31 392.09,256.23 392.36,254.16 392.64,252.12 392.91,250.09 393.18,248.08 393.46,245.98 393.75,243.91 394.03,241.85 394.32,239.82 394.60,237.80 394.90,235.70 395.20,233.63 395.50,231.57 395.80,229.54 396.10,227.52 396.41,225.44 396.73,223.37 397.04,221.32 397.35,219.30 397.67,217.30 397.99,215.23 398.32,213.18 398.65,211.15 398.98,209.15 399.10,208.40 399.27,210.45 399.44,212.49 399.61,214.51 399.78,216.53 399.95,218.53 400.14,220.68 400.33,222.83 400.51,224.96 400.70,227.07 400.88,229.17 401.07,231.26 401.25,233.34 401.44,235.40 401.62,237.45 401.81,239.49 401.99,241.51 402.18,243.53 402.38,245.68 402.58,247.82 402.78,249.94 402.98,252.05 403.18,254.14 403.37,256.23 403.57,258.29 403.77,260.34 403.97,262.38 404.17,264.41 404.37,266.42 404.59,268.56 404.80,270.69 405.01,272.80 405.23,274.89 405.44,276.97 405.65,279.03 405.87,281.08 406.08,283.12 406.30,285.14 406.51,287.14 406.74,289.26 406.97,291.37 407.19,293.46 407.42,295.53 407.65,297.59 407.88,299.63 408.11,301.66 408.33,303.67 408.58,305.79 408.82,307.89 409.06,309.98 409.30,312.04 409.55,314.09 409.79,316.13 410.03,318.15 410.27,320.15 410.53,322.25 410.78,324.33 411.04,326.39 411.30,328.44 411.55,330.47 411.81,332.48 412.08,334.58 412.35,336.67 412.62,338.74 412.89,340.78 413.16,342.81 413.44,344.82 413.72,346.91 414.01,348.99 414.29,351.05 414.58,353.08 414.86,355.10 415.16,357.19 415.46,359.27 415.76,361.32 416.06,363.35 416.36,365.37 416.67,367.45 416.98,369.52 417.30,371.56 417.61,373.58 417.94,375.67 418.27,377.74 418.59,379.78 418.92,381.80 419.26,383.89 419.61,385.95 419.95,387.98 420.29,390.00 420.40,390.64 420.57,388.56 420.74,386.48 420.91,384.42 421.08,382.37 421.25,380.33 421.43,378.31 421.60,376.29 421.77,374.29 421.95,372.13 422.14,369.99 422.32,367.86 422.51,365.74 422.69,363.63 422.88,361.54 423.06,359.47 423.25,357.40 423.44,355.35 423.62,353.31 423.81,351.28 423.99,349.27 424.18,347.27 424.38,345.13 424.58,343.00 424.77,340.89 424.97,338.79 425.17,336.70 425.37,334.63 425.57,332.58 425.77,330.53 425.97,328.50 426.17,326.49 426.37,324.49 426.58,322.36 426.80,320.24 427.01,318.14 427.23,316.06 427.44,313.99 427.65,311.93 427.87,309.89 428.08,307.87 428.29,305.86 428.52,303.73 428.75,301.62 428.98,299.52 429.21,297.44 429.43,295.38 429.66,293.33 429.89,291.29 430.12,289.28 430.35,287.28 430.59,285.17 430.83,283.07 431.07,281.00 431.32,278.94 431.56,276.90 431.80,274.87 432.04,272.86 432.30,270.75 432.56,268.66 432.81,266.59 433.07,264.53 433.32,262.49 433.58,260.47 433.84,258.47 434.11,256.38 434.38,254.30 434.65,252.24 434.92,250.20 435.19,248.18 435.46,246.18 435.75,244.10 436.03,242.03 436.32,239.98 436.60,237.95 436.89,235.94 437.19,233.86 437.49,231.79 437.78,229.74 438.08,227.72 438.38,225.71 438.70,223.63 439.01,221.57 439.32,219.54 439.64,217.52 439.97,215.44 440.29,213.38 440.62,211.34 440.95,209.32 441.10,208.40 441.27,210.45 441.44,212.49 441.61,214.51 441.78,216.53 441.95,218.53 442.14,220.68 442.33,222.83 442.51,224.96 442.70,227.07 442.88,229.17 443.07,231.26 443.25,233.34 443.44,235.40 443.62,237.45 443.81,239.49 443.99,241.51 444.18,243.53 444.38,245.68 444.58,247.82 444.78,249.94 444.98,252.05 445.18,254.14 445.37,256.23 445.57,258.29 445.77,260.34 445.97,262.38 446.17,264.41 446.37,266.42 446.59,268.56 446.80,270.69 447.01,272.80 447.23,274.89 447.44,276.97 447.65,279.03 447.87,281.08 448.08,283.12 448.30,285.14 448.51,287.14 448.74,289.26 448.97,291.37 449.19,293.46 449.42,295.53 449.65,297.59 449.88,299.63 450.11,301.66 450.33,303.67 450.58,305.79 450.82,307.89 451.06,309.98 451.30,312.04 451.55,314.09 451.79,316.13 452.03,318.15 452.27,320.15 452.53,322.25 452.78,324.33 453.04,326.39 453.30,328.44 453.55,330.47 453.81,332.48 454.08,334.58 454.35,336.67 454.62,338.74 454.89,340.78 455.16,342.81 455.44,344.82 455.72,346.91 456.01,348.99 456.29,351.05 456.58,353.08 456.86,355.10 457.16,357.19 457.46,359.27 457.76,361.32 458.06,363.35 458.36,365.37 458.67,367.45 458.98,369.52 459.30,371.56 459.61,373.58 459.94,375.67 460.27,377.74 460.59,379.78 460.92,381.80 461.26,383.89 461.61,385.95 461.95,387.98 462.29,390.00 462.40,390.64 462.59,388.50 462.77,386.36 462.96,384.24 463.14,382.14 463.33,380.04 463.51,377.96 463.70,375.89 463.88,373.83 464.07,371.78 464.25,369.75 464.44,367.73 464.62,365.72 464.82,363.57 465.02,361.43 465.22,359.31 465.42,357.19 465.62,355.10 465.82,353.01 466.02,350.94 466.22,348.89 466.42,346.84 466.62,344.81 466.82,342.79 467.02,340.79 467.23,338.65 467.44,336.53 467.66,334.43 467.87,332.34 468.09,330.26 468.30,328.20 468.51,326.15 468.73,324.12 468.94,322.10 469.15,320.09 469.38,317.96 469.61,315.85 469.84,313.76 470.07,311.68 470.29,309.62 470.52,307.57 470.75,305.53 470.98,303.51 471.21,301.51 471.45,299.40 471.69,297.30 471.93,295.22 472.18,293.15 472.42,291.10 472.66,289.07 472.90,287.05 473.14,285.05 473.40,282.94 473.66,280.86 473.91,278.79 474.17,276.74 474.43,274.70 474.68,272.68 474.94,270.68 475.21,268.59 475.48,266.51 475.75,264.45 476.02,262.41 476.29,260.38 476.56,258.38 476.85,256.28 477.13,254.21 477.42,252.15 477.70,250.12 477.99,248.10 478.29,246.00 478.59,243.92 478.89,241.86 479.19,239.82 479.49,237.80 479.78,235.80 480.10,233.72 480.41,231.67 480.73,229.63 481.04,227.62 481.37,225.53 481.69,223.47 482.02,221.43 482.35,219.41 482.69,217.33 483.03,215.26 483.38,213.22 483.72,211.21 484.07,209.13 484.20,208.40 484.37,210.44 484.54,212.47 484.71,214.48 484.88,216.49 485.07,218.65 485.25,220.79 485.44,222.92 485.62,225.04 485.81,227.15 486.00,229.24 486.18,231.32 486.37,233.39 486.55,235.44 486.74,237.48 486.92,239.51 487.11,241.52 487.29,243.52 487.49,245.67 487.69,247.79 487.89,249.91 488.09,252.01 488.29,254.09 488.49,256.17 488.69,258.22 488.89,260.27 489.09,262.30 489.29,264.31 489.49,266.32 489.70,268.45 489.91,270.56 490.13,272.66 490.34,274.75 490.56,276.82 490.77,278.87 490.98,280.91 491.20,282.94 491.41,284.95 491.64,287.08 491.87,289.19 492.09,291.29 492.32,293.37 492.55,295.44 492.78,297.49 493.01,299.52 493.23,301.54 493.46,303.54 493.70,305.65 493.95,307.74 494.19,309.82 494.43,311.88 494.67,313.92 494.92,315.95 495.16,317.96 495.41,320.07 495.67,322.16 495.93,324.23 496.18,326.29 496.44,328.33 496.70,330.35 496.95,332.35 497.22,334.44 497.50,336.52 497.77,338.58 498.04,340.62 498.31,342.64 498.58,344.64 498.86,346.73 499.15,348.79 499.43,350.84 499.72,352.87 500.00,354.88 500.30,356.97 500.60,359.03 500.90,361.08 501.20,363.11 501.50,365.11 501.81,367.19 502.13,369.25 502.44,371.28 502.75,373.30 503.08,375.38 503.41,377.44 503.74,379.48 504.06,381.49 504.41,383.57 504.75,385.63 505.09,387.66 505.43,389.67 505.60,390.64 505.77,388.56 505.94,386.48 506.11,384.42 506.28,382.37 506.45,380.33 506.63,378.31 506.80,376.29 506.97,374.29 507.15,372.13 507.34,369.99 507.52,367.86 507.71,365.74 507.89,363.63 508.08,361.54 508.26,359.47 508.45,357.40 508.64,355.35 508.82,353.31 509.01,351.28 509.19,349.27 509.38,347.27 509.58,345.13 509.78,343.00 509.97,340.89 510.17,338.79 510.37,336.70 510.57,334.63 510.77,332.58 510.97,330.53 511.17,328.50 511.37,326.49 511.57,324.49 511.78,322.36 512.00,320.24 512.21,318.14 512.43,316.06 512.64,313.99 512.85,311.93 513.07,309.89 513.28,307.87 513.49,305.86 513.72,303.73 513.95,301.62 514.18,299.52 514.41,297.44 514.63,295.38 514.86,293.33 515.09,291.29 515.32,289.28 515.55,287.28 515.79,285.17 516.03,283.07 516.27,281.00 516.52,278.94 516.76,276.90 517.00,274.87 517.24,272.86 517.50,270.75 517.76,268.66 518.01,266.59 518.27,264.53 518.52,262.49 518.78,260.47 519.04,258.47 519.31,256.38 519.58,254.30 519.85,252.24 520.12,250.20 520.39,248.18 520.66,246.18 520.95,244.10 521.23,242.03 521.52,239.98 521.80,237.95 522.09,235.94 522.39,233.86 522.69,231.79 522.98,229.74 523.28,227.72 523.58,225.71 523.90,223.63 524.21,221.57 524.52,219.54 524.84,217.52 525.17,215.44 525.49,213.38 525.82,211.34 526.15,209.32 526.30,208.40 526.47,210.45 526.64,212.49 526.81,214.51 526.98,216.53 527.15,218.53 527.34,220.68 527.53,222.83 527.71,224.96 527.90,227.07 528.08,229.17 528.27,231.26 528.45,233.34 528.64,235.40 528.82,237.45 529.01,239.49 529.19,241.51 529.38,243.53 529.58,245.68 529.78,247.82 529.98,249.94 530.18,252.05 530.38,254.14 530.57,256.23 530.77,258.29 530.97,260.34 531.17,262.38 531.37,264.41 531.57,266.42 531.79,268.56 532.00,270.69 532.21,272.80 532.43,274.89 532.64,276.97 532.85,279.03 533.07,281.08 533.28,283.12 533.50,285.14 533.71,287.14 533.94,289.26 534.17,291.37 534.39,293.46 534.62,295.53 534.85,297.59 535.08,299.63 535.31,301.66 535.53,303.67 535.78,305.79 536.02,307.89 536.26,309.98 536.50,312.04 536.75,314.09 536.99,316.13 537.23,318.15 537.47,320.15 537.73,322.25 537.98,324.33 538.24,326.39 538.50,328.44 538.75,330.47 539.01,332.48 539.28,334.58 539.55,336.67 539.82,338.74 540.09,340.78 540.36,342.81 540.64,344.82 540.92,346.91 541.21,348.99 541.49,351.05 541.78,353.08 542.06,355.10 542.36,357.19 542.66,359.27 542.96,361.32 543.26,363.35 543.56,365.37 543.87,367.45 544.18,369.52 544.50,371.56 544.81,373.58 545.14,375.67 545.47,377.74 545.79,379.78 546.12,381.80 546.46,383.89 546.81,385.95 547.15,387.98 547.49,390.00 547.60,390.64 547.77,388.60 547.94,386.56 548.11,384.54 548.28,382.53 548.45,380.53 548.64,378.37 548.83,376.23 549.01,374.10 549.20,371.99 549.38,369.88 549.57,367.79 549.75,365.72 549.94,363.65 550.12,361.60 550.31,359.56 550.49,357.54 550.68,355.52 550.86,353.52 551.06,351.38 551.26,349.25 551.46,347.14 551.66,345.04 551.86,342.95 552.06,340.88 552.26,338.82 552.46,336.77 552.66,334.74 552.86,332.72 553.06,330.72 553.27,328.58 553.49,326.46 553.70,324.36 553.91,322.27 554.13,320.20 554.34,318.14 554.55,316.09 554.77,314.06 554.98,312.05 555.20,310.04 555.42,307.92 555.65,305.82 555.88,303.73 556.11,301.66 556.34,299.60 556.56,297.56 556.79,295.53 557.02,293.52 557.26,291.40 557.50,289.30 557.75,287.21 557.99,285.14 558.23,283.09 558.47,281.05 558.71,279.03 558.96,277.03 559.21,274.92 559.47,272.84 559.73,270.77 559.98,268.72 560.24,266.68 560.50,264.66 560.75,262.66 561.02,260.57 561.29,258.50 561.56,256.44 561.84,254.40 562.11,252.38 562.38,250.38 562.66,248.29 562.95,246.23 563.23,244.18 563.52,242.15 563.80,240.14 564.10,238.05 564.40,235.98 564.70,233.93 565.00,231.90 565.30,229.89 565.61,227.81 565.93,225.75 566.24,223.70 566.55,221.69 566.88,219.60 567.21,217.53 567.54,215.49 567.86,213.46 568.19,211.46 568.53,209.40 568.70,208.40 568.87,210.46 569.04,212.51 569.21,214.54 569.38,216.56 569.55,218.58 569.74,220.74 569.93,222.89 570.11,225.03 570.30,227.16 570.48,229.27 570.67,231.37 570.85,233.45 571.04,235.52 571.22,237.58 571.41,239.63 571.59,241.66 571.78,243.68 571.96,245.69 572.16,247.84 572.36,249.97 572.56,252.09 572.76,254.20 572.96,256.29 573.16,258.36 573.36,260.42 573.56,262.47 573.76,264.51 573.96,266.53 574.16,268.53 574.37,270.67 574.59,272.79 574.80,274.89 575.01,276.98 575.23,279.05 575.44,281.11 575.65,283.16 575.87,285.19 576.08,287.20 576.31,289.33 576.54,291.45 576.77,293.55 576.99,295.63 577.22,297.70 577.45,299.75 577.68,301.78 577.91,303.80 578.13,305.80 578.38,307.92 578.62,310.01 578.86,312.09 579.10,314.15 579.34,316.19 579.59,318.22 579.83,320.23 580.09,322.34 580.34,324.43 580.60,326.50 580.86,328.56 581.11,330.59 581.37,332.61 581.62,334.62 581.90,336.71 582.17,338.78 582.44,340.84 582.71,342.88 582.98,344.90 583.26,347.00 583.55,349.08 583.83,351.15 584.12,353.19 584.40,355.22 584.69,357.22 584.99,359.31 585.29,361.37 585.59,363.41 585.89,365.43 586.18,367.43 586.50,369.51 586.81,371.56 587.13,373.59 587.44,375.60 587.77,377.67 588.09,379.73 588.42,381.76 588.75,383.77 589.09,385.84 589.43,387.89 589.78,389.91 589.90,390.64 590.07,388.57 590.24,386.50 590.41,384.45 590.58,382.41 590.75,380.38 590.93,378.36 591.10,376.36 591.28,374.20 591.47,372.05 591.65,369.92 591.84,367.80 592.02,365.69 592.21,363.60 592.39,361.52 592.58,359.45 592.76,357.40 592.95,355.35 593.13,353.32 593.32,351.31 593.51,349.30 593.70,347.16 593.90,345.03 594.10,342.91 594.30,340.81 594.50,338.72 594.70,336.65 594.90,334.59 595.10,332.54 595.30,330.51 595.50,328.49 595.70,326.48 595.91,324.35 596.13,322.23 596.34,320.13 596.55,318.04 596.77,315.96 596.98,313.90 597.20,311.86 597.41,309.83 597.62,307.82 597.84,305.81 598.07,303.70 598.29,301.59 598.52,299.51 598.75,297.44 598.98,295.38 599.21,293.34 599.43,291.32 599.66,289.31 599.90,287.20 600.15,285.10 600.39,283.02 600.63,280.95 600.87,278.90 601.11,276.87 601.36,274.85 601.61,272.74 601.87,270.64 602.13,268.56 602.38,266.50 602.64,264.45 602.90,262.42 603.15,260.41 603.42,258.31 603.69,256.23 603.96,254.16 604.24,252.12 604.51,250.09 604.78,248.08 605.06,245.98 605.35,243.91 605.63,241.85 605.92,239.82 606.20,237.80 606.49,235.80" fill="none" stroke="#b41c20" stroke-width="1" stroke-linejoin="round" stroke-linecap="round" shape-rendering="crispEdges"/><g font-family="Liberation Sans, Arial, sans-serif" font-weight="bold" font-size="14" fill="#000" stroke="#000" stroke-width="0.12"><text x="0.6" y="586" textLength="27.5" lengthAdjust="spacingAndGlyphs">0.0V</text><text x="0.6" y="530" textLength="27.5" lengthAdjust="spacingAndGlyphs">0.5V</text><text x="0.6" y="473" textLength="27.5" lengthAdjust="spacingAndGlyphs">1.0V</text><text x="0.6" y="417" textLength="27.5" lengthAdjust="spacingAndGlyphs">1.5V</text><text x="0.6" y="361" textLength="27.5" lengthAdjust="spacingAndGlyphs">2.0V</text><text x="0.6" y="305" textLength="27.5" lengthAdjust="spacingAndGlyphs">2.5V</text><text x="0.6" y="248" textLength="27.5" lengthAdjust="spacingAndGlyphs">3.0V</text><text x="0.6" y="192" textLength="27.5" lengthAdjust="spacingAndGlyphs">3.5V</text><text x="0.6" y="136" textLength="27.5" lengthAdjust="spacingAndGlyphs">4.0V</text><text x="0.6" y="79" textLength="27.5" lengthAdjust="spacingAndGlyphs">4.5V</text><text x="0.6" y="23" textLength="27.5" lengthAdjust="spacingAndGlyphs">5.0V</text><text x="36.5" y="602" text-anchor="middle">0µs</text><text x="93.5" y="602" text-anchor="middle">20µs</text><text x="150.5" y="602" text-anchor="middle">40µs</text><text x="207.5" y="602" text-anchor="middle">60µs</text><text x="264.5" y="602" text-anchor="middle">80µs</text><text x="321.5" y="602" text-anchor="middle">100µs</text><text x="378.5" y="602" text-anchor="middle">120µs</text><text x="435.5" y="602" text-anchor="middle">140µs</text><text x="492.5" y="602" text-anchor="middle">160µs</text><text x="549.5" y="602" text-anchor="middle">180µs</text><text x="605.9" y="602" text-anchor="middle">200µs</text></g><g font-family="Liberation Sans, Arial, sans-serif" font-weight="bold" font-size="14" lengthAdjust="spacingAndGlyphs"><text x="112.6" y="13" textLength="35.5" lengthAdjust="spacingAndGlyphs" fill="#1008c8">V(out)</text><text x="304.6" y="13" textLength="32" lengthAdjust="spacingAndGlyphs" fill="#1ed21e">V(v+)</text><text x="494.8" y="13" textLength="31.5" lengthAdjust="spacingAndGlyphs" fill="#cd0f14">V(in-)</text></g></svg></body></html>
